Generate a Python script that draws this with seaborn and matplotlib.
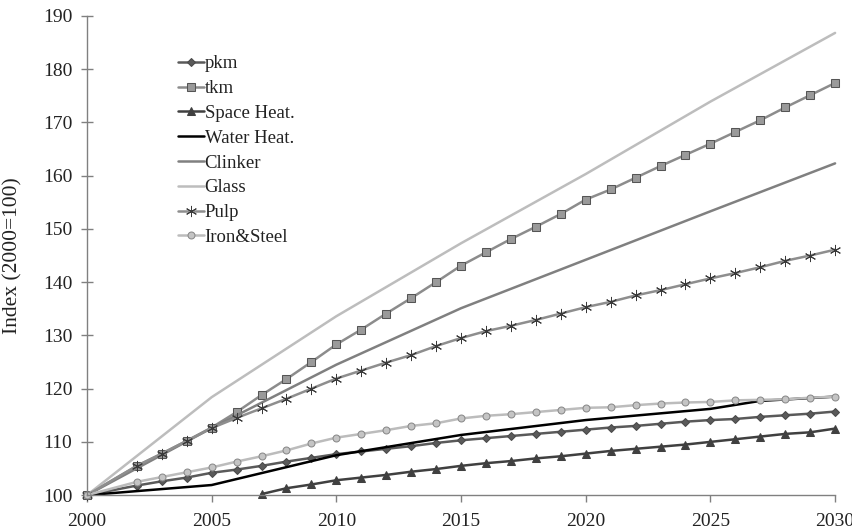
import matplotlib
matplotlib.use("Agg")
import matplotlib.pyplot as plt
import seaborn as sns
import pandas as pd

# Years with yearly markers (2001 not reported)
years = [2000] + list(range(2002, 2031))
heat_years = list(range(2007, 2031))
five_years = [2000, 2005, 2010, 2015, 2020, 2025, 2030]
water_years = [2000, 2005, 2010, 2015, 2020, 2025, 2027, 2030]

pkm = [100, 101.8, 102.6, 103.3, 104.2, 104.8, 105.5, 106.3, 107.0, 107.7, 108.2,
       108.7, 109.2, 109.8, 110.3, 110.7, 111.1, 111.5, 111.9, 112.3, 112.7,
       113.0, 113.4, 113.8, 114.1, 114.3, 114.7, 115.0, 115.3, 115.7]
tkm = [100, 105.5, 107.8, 110.2, 112.7, 115.6, 118.8, 121.8, 125.0, 128.3, 131.1,
       134.1, 137.0, 140.0, 143.1, 145.6, 148.1, 150.4, 152.8, 155.5, 157.4,
       159.6, 161.8, 163.9, 166.0, 168.2, 170.4, 172.8, 175.1, 177.4]
space_heat = [100.2, 101.3, 102.0, 102.8, 103.3, 103.8, 104.4, 104.9, 105.5, 106.0,
              106.4, 106.9, 107.3, 107.8, 108.3, 108.7, 109.1, 109.5, 110.0, 110.5,
              111.0, 111.5, 111.8, 112.5]
water_heat = [100, 101.9, 107.5, 111.3, 114.1, 116.2, 117.7, 118.5]
clinker = [100, 112.6, 124.5, 135.1, 144.2, 153.3, 162.3]
glass = [100, 118.4, 133.6, 147.3, 160.3, 173.9, 186.8]
pulp = [100, 105.5, 107.8, 110.2, 112.6, 114.5, 116.3, 118.1, 120.0, 121.9, 123.4,
        124.9, 126.3, 128.0, 129.5, 130.8, 131.8, 132.9, 134.1, 135.3, 136.3,
        137.5, 138.5, 139.6, 140.7, 141.7, 142.8, 144.0, 145.0, 146.1]
iron_steel = [100, 102.5, 103.4, 104.3, 105.2, 106.3, 107.3, 108.4, 109.7, 110.8, 111.5,
              112.2, 113.0, 113.5, 114.4, 114.9, 115.2, 115.6, 116.0, 116.4, 116.5,
              116.9, 117.2, 117.4, 117.5, 117.8, 117.9, 118.0, 118.3, 118.5]

x_ticks = [2000, 2005, 2010, 2015, 2020, 2025, 2030]
y_ticks = [100, 110, 120, 130, 140, 150, 160, 170, 180, 190]

sns.set_theme(style="white")
plt.rcParams["font.family"] = ["Liberation Serif", "DejaVu Serif"]

fig = plt.figure(figsize=(8.53, 5.29), dpi=100)
ax = fig.add_axes([0.102, 0.064, 0.877, 0.906])

series = [
    ("pkm", years, pkm, dict(color="#5a5a5a", marker="D", markersize=4.5,
                             markerfacecolor="#5a5a5a", markeredgecolor="#4a4a4a")),
    ("tkm", years, tkm, dict(color="#8c8c8c", marker="s", markersize=5.5,
                             markerfacecolor="#9a9a9a", markeredgecolor="#555555")),
    ("Space Heat.", heat_years, space_heat, dict(color="#404040", marker="^", markersize=6,
                                                 markerfacecolor="#404040", markeredgecolor="#404040")),
    ("Water Heat.", water_years, water_heat, dict(color="#000000")),
    ("Clinker", five_years, clinker, dict(color="#808080")),
    ("Glass", five_years, glass, dict(color="#bdbdbd")),
    ("Pulp", years, pulp, dict(color="#8e8e8e", marker=(6, 2, 0), markersize=8,
                               markeredgecolor="#3a3a3a", markeredgewidth=0.7)),
    ("Iron&Steel", years, iron_steel, dict(color="#bcbcbc", marker="o", markersize=5,
                                           markerfacecolor="#c4c4c4", markeredgecolor="#8a8a8a")),
]

for name, xs, ys, style in series:
    df = pd.DataFrame({"year": xs, "index": ys})
    sns.lineplot(data=df, x="year", y="index", ax=ax, label=name,
                 linewidth=1.8, clip_on=False, **style)

ax.set_xlim(2000, 2030)
ax.set_ylim(100, 190)
ax.set_xticks(x_ticks)
ax.set_yticks(y_ticks)
ax.set_xlabel("")
ax.set_ylabel("Index (2000=100)", fontsize=15.5, color="#222222")
ax.yaxis.set_label_coords(-0.086, 0.5)

for side in ["top", "right"]:
    ax.spines[side].set_visible(False)
for side in ["left", "bottom"]:
    ax.spines[side].set_color("#808080")
    ax.spines[side].set_linewidth(1.0)
ax.tick_params(axis="y", direction="inout", length=9, width=1, color="#808080",
               labelsize=14, labelcolor="#222222", pad=6, left=True)
ax.tick_params(axis="x", direction="out", length=5, width=1, color="#808080",
               labelsize=14, labelcolor="#222222", pad=8, bottom=True)

leg = ax.legend(loc="upper left", bbox_to_anchor=(0.122, 0.918), frameon=False,
                fontsize=13.5, handlelength=1.35, handletextpad=0.05,
                labelspacing=0.41, borderaxespad=0, borderpad=0)
for t in leg.get_texts():
    t.set_color("#222222")

fig.savefig("out.png", dpi=100)
